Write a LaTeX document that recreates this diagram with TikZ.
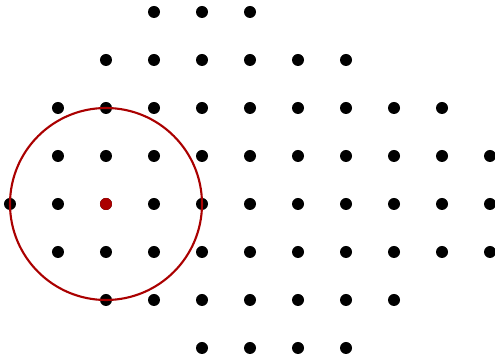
\documentclass[tikz,border=0pt]{standalone}
\usepackage{tikz}
\definecolor{darkred}{RGB}{170,0,0}
\tikzstyle{dot} = [circle, fill=black, inner sep=0pt, minimum size=0.25cm]
\tikzstyle{centre} = [dot, fill=darkred]
\tikzstyle{ring} = [draw=darkred, line width=1.25pt]

\begin{document}
\begin{tikzpicture}[x=1cm, y=1cm]
        \useasboundingbox (-0.2083,-3.1458) rectangle (10.1042,4.25);
        % Lattice points, row by row (row / first / last column)
        \foreach \j/\a/\b in {4/3/5, 3/2/7, 2/1/9, 1/1/10, 0/0/10, -1/1/10, -2/2/8, -3/4/7}
            \foreach \i in {\a,...,\b}
                \node (p-\i-\j) [dot] at (\i,\j) {};
        % Circle round the centre point
        \node (c) [centre] at (2,0) {};
        \draw[ring] (c.center) circle (2);
    \end{tikzpicture}
\end{document}
